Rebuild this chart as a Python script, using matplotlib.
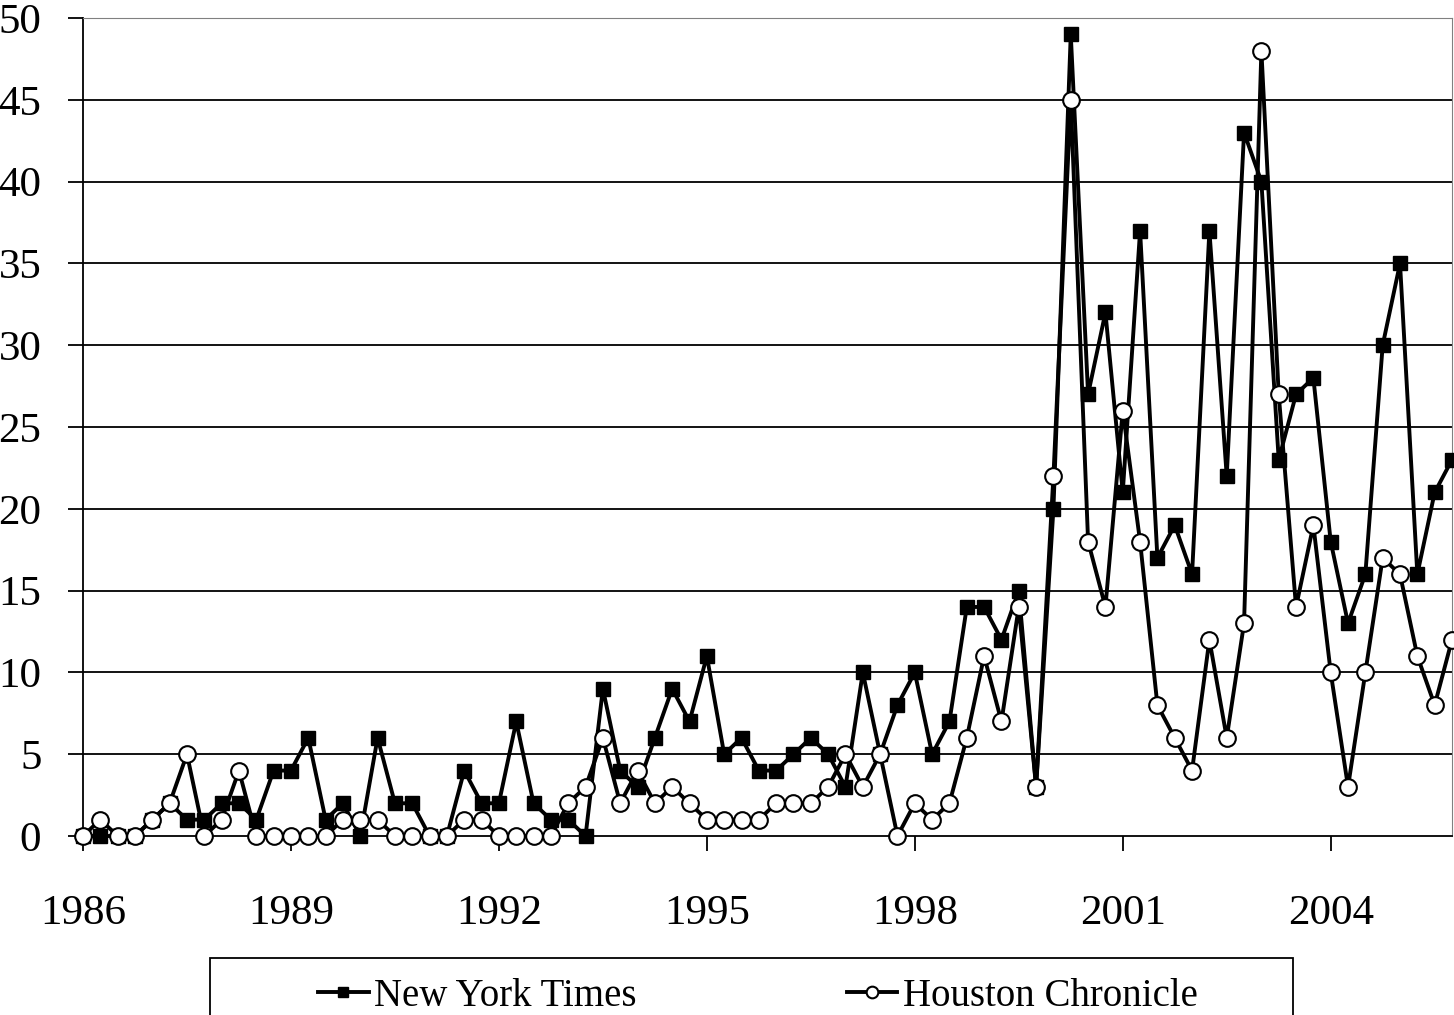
import numpy as np
import matplotlib
matplotlib.use("Agg")
import matplotlib.pyplot as plt
from matplotlib.patches import Rectangle

# quarterly article counts, 1986 Q1 .. 2005 Q4
START_YEAR = 1986
nyt_counts = [0, 0, 0, 0, 1, 2, 1, 1, 2, 2,
              1, 4, 4, 6, 1, 2, 0, 6, 2, 2,
              0, 0, 4, 2, 2, 7, 2, 1, 1, 0,
              9, 4, 3, 6, 9, 7, 11, 5, 6, 4,
              4, 5, 6, 5, 3, 10, 5, 8, 10, 5,
              7, 14, 14, 12, 15, 3, 20, 49, 27, 32,
              21, 37, 17, 19, 16, 37, 22, 43, 40, 23,
              27, 28, 18, 13, 16, 30, 35, 16, 21, 23]
hc_counts = [0, 1, 0, 0, 1, 2, 5, 0, 1, 4,
             0, 0, 0, 0, 0, 1, 1, 1, 0, 0,
             0, 0, 1, 1, 0, 0, 0, 0, 2, 3,
             6, 2, 4, 2, 3, 2, 1, 1, 1, 1,
             2, 2, 2, 3, 5, 3, 5, 0, 2, 1,
             2, 6, 11, 7, 14, 3, 22, 45, 18, 14,
             26, 18, 8, 6, 4, 12, 6, 13, 48, 27,
             14, 19, 10, 3, 10, 17, 16, 11, 8, 12]
year_ticks = [1986, 1989, 1992, 1995, 1998, 2001, 2004]
y_ticks = [0, 5, 10, 15, 20, 25, 30, 35, 40, 45, 50]

plt.rcParams['font.family'] = ['Liberation Serif', 'DejaVu Serif']

quarters = START_YEAR + np.arange(len(nyt_counts)) / 4.0

fig = plt.figure(figsize=(14.54, 10.15), dpi=100)
ax = fig.add_axes([83 / 1454, 1 - 836 / 1015, 1369 / 1454, 818 / 1015])

for y in y_ticks[1:]:
    ax.axhline(y, color='black', linewidth=1.3, zorder=1)

ax.plot(quarters, nyt_counts, color='black', linewidth=2.8, marker='s',
        markersize=9.5, markerfacecolor='black', markeredgecolor='black',
        label='New York Times', zorder=3, clip_on=False)
ax.plot(quarters, hc_counts, color='black', linewidth=2.8, marker='o',
        markersize=12, markerfacecolor='white', markeredgecolor='black',
        markeredgewidth=1.5, label='Houston Chronicle', zorder=4, clip_on=False)

ax.set_xlim(START_YEAR, START_YEAR + 19.75)
ax.set_ylim(0, 50)
ax.set_xticks(year_ticks)
ax.set_xticklabels([str(y) for y in year_ticks])
ax.set_yticks(y_ticks)
ax.tick_params(axis='both', direction='out', length=11, width=1.3,
               labelsize=31, color='black')
ax.tick_params(axis='x', pad=31)
ax.tick_params(axis='y', pad=19)

ax.spines['left'].set_linewidth(1.3)
ax.spines['bottom'].set_linewidth(1.3)
ax.spines['top'].set_color('#808080')
ax.spines['right'].set_color('#808080')

# legend box runs off the bottom of the figure, as in the original
fig.add_artist(Rectangle((210 / 1454, -0.05), 1083 / 1454, 0.05 + (1015 - 958) / 1015,
                         transform=fig.transFigure, fill=False,
                         edgecolor='black', linewidth=1.3))
leg = fig.legend(loc='center left', ncol=2,
                 bbox_to_anchor=(318 / 1454, 1 - 996 / 1015),
                 fontsize=28, frameon=False, handlelength=1.3,
                 handletextpad=0.15, borderpad=0, borderaxespad=0,
                 markerscale=0.7, columnspacing=5.4)

fig.savefig('out.png', dpi=100)
